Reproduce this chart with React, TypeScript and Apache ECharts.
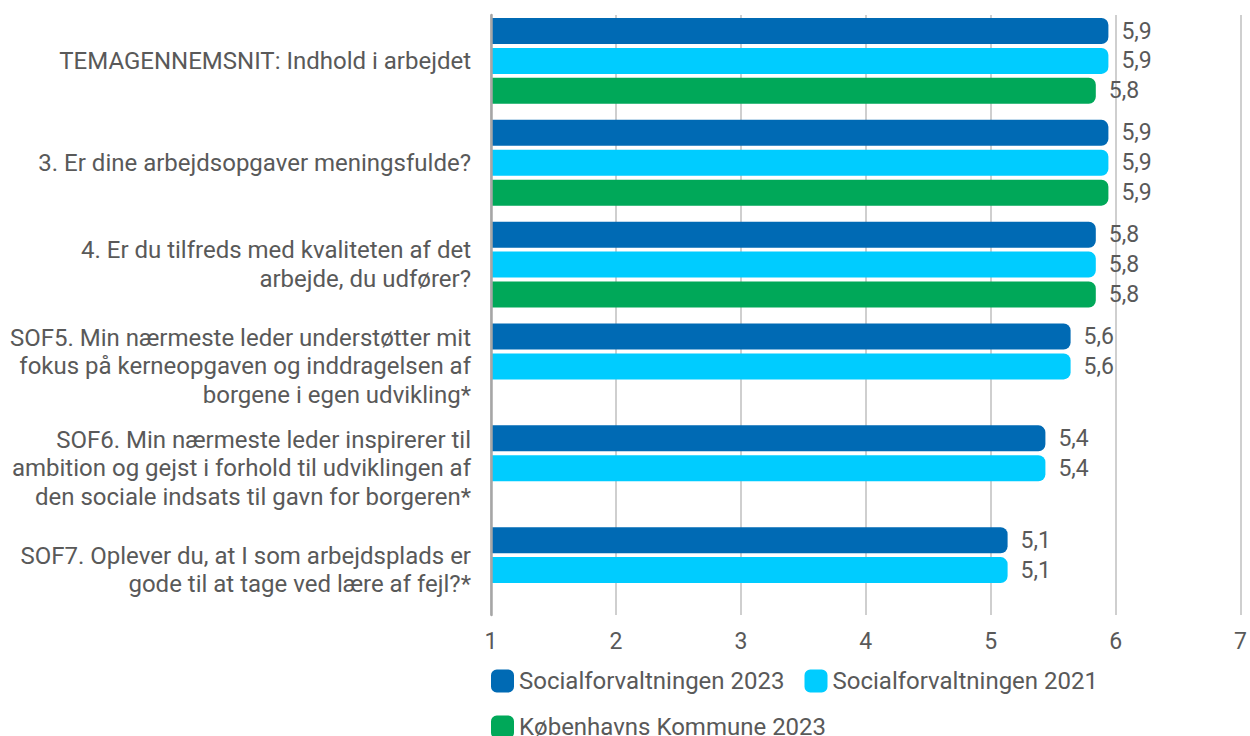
import React, { useEffect, useRef } from "react";
import * as echarts from "echarts";

const categories = [
  "TEMAGENNEMSNIT: Indhold i arbejdet",
  "3. Er dine arbejdsopgaver meningsfulde?",
  "4. Er du tilfreds med kvaliteten af det\narbejde, du udfører?",
  "SOF5. Min nærmeste leder understøtter mit\nfokus på kerneopgaven og inddragelsen af\nborgene i egen udvikling*",
  "SOF6. Min nærmeste leder inspirerer til\nambition og gejst i forhold til udviklingen af\nden sociale indsats til gavn for borgeren*",
  "SOF7. Oplever du, at I som arbejdsplads er\ngode til at tage ved lære af fejl?*",
];

const seriesNames = [
  "Socialforvaltningen 2023",
  "Socialforvaltningen 2021",
  "Københavns Kommune 2023",
];

const sof2023 = [5.9, 5.9, 5.8, 5.6, 5.4, 5.1];
const sof2021 = [5.9, 5.9, 5.8, 5.6, 5.4, 5.1];
const kk2023 = [5.8, 5.9, 5.8, null, null, null];

const colors = ["#006AB4", "#00CCFF", "#00A859"];

const TEXT = "#595959";
const FONT = "Roboto";

export default function App() {
  const ref = useRef<HTMLDivElement>(null);

  useEffect(() => {
    if (!ref.current) return;
    const chart = echarts.init(ref.current, null, { renderer: "svg" });
    const fmt = (p: any) =>
      p.value == null ? "" : Number(p.value).toFixed(1).replace(".", ",");
    const mkSeries = (name: string, data: (number | null)[], color: string) => ({
      name,
      type: "bar",
      xAxisIndex: 1,
      yAxisIndex: 1,
      data,
      barWidth: 26,
      barGap: "15%",
      itemStyle: { color, borderRadius: [0, 7, 7, 0] },
      label: {
        show: true,
        position: "right",
        distance: 13,
        formatter: fmt,
        color: TEXT,
        fontSize: 23,
        fontFamily: FONT,
      },
      z: 3,
    });
    const legendText = { color: TEXT, fontSize: 24, fontFamily: FONT };
    chart.setOption({
      animation: false,
      textStyle: { fontFamily: FONT },
      grid: [
        { left: 491, width: 756, top: 15, height: 600 },
        { left: 491, width: 756, top: 10, height: 611 },
      ],
      xAxis: [
        {
          gridIndex: 0,
          type: "value",
          min: 1,
          max: 7,
          interval: 1,
          axisLine: { show: false },
          axisTick: { show: false },
          splitLine: { show: true, lineStyle: { color: "#bfbfbf", width: 1.5 } },
          axisLabel: { color: TEXT, fontSize: 23, fontFamily: FONT, margin: 15 },
        },
        {
          gridIndex: 1,
          type: "value",
          min: 1,
          max: 7,
          interval: 1,
          show: false,
          splitLine: { show: false },
        },
      ],
      yAxis: [
        {
          gridIndex: 0,
          type: "category",
          data: categories,
          inverse: true,
          axisLine: { show: true, lineStyle: { color: "#a6a6a6", width: 2.5 } },
          axisTick: { show: false },
          axisLabel: { show: false },
          splitLine: { show: false },
          z: 4,
        },
        {
          gridIndex: 1,
          type: "category",
          data: categories,
          inverse: true,
          axisLine: { show: false },
          axisTick: { show: false },
          splitLine: { show: false },
          axisLabel: {
            color: TEXT,
            fontSize: 24,
            fontFamily: FONT,
            lineHeight: 28.5,
            margin: 20,
            align: "right",
          },
        },
      ],
      legend: [
        {
          data: [seriesNames[0], seriesNames[1]],
          left: 486,
          top: 664,
          icon: "roundRect",
          itemWidth: 23,
          itemHeight: 23,
          itemGap: 20,
          textStyle: legendText,
          selectedMode: false,
        },
        {
          data: [seriesNames[2]],
          left: 486,
          top: 710,
          icon: "roundRect",
          itemWidth: 23,
          itemHeight: 23,
          itemGap: 20,
          textStyle: legendText,
          selectedMode: false,
        },
      ],
      series: [
        mkSeries(seriesNames[0], sof2023, colors[0]),
        mkSeries(seriesNames[1], sof2021, colors[1]),
        mkSeries(seriesNames[2], kk2023, colors[2]),
      ],
    });
    return () => chart.dispose();
  }, []);

  return (
    <div
      ref={ref}
      style={{ position: "absolute", left: 0, top: 0, width: 1250, height: 736 }}
    />
  );
}
